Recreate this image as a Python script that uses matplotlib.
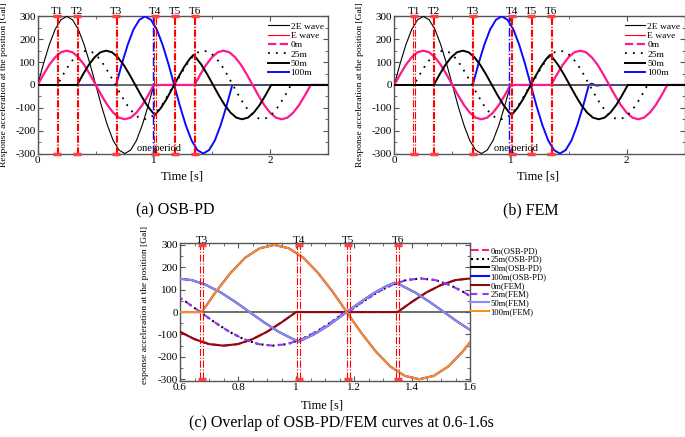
import matplotlib
matplotlib.use('Agg')
import matplotlib.pyplot as plt
from matplotlib.lines import Line2D
from matplotlib.ticker import MultipleLocator, FuncFormatter

plt.rcParams['font.family'] = ['Liberation Serif', 'DejaVu Serif']
plt.rcParams['axes.unicode_minus'] = False

# ---- values (time in s, acceleration in Gal) ----
# input waves
t_2e = [0.0, 0.05, 0.1, 0.15, 0.2, 0.25, 0.3, 0.35, 0.4, 0.45, 0.5, 0.55, 0.6, 0.65, 0.7,
        0.75, 0.8, 0.85, 0.9, 0.95, 1.0, 2.5]
a_2e = [0, 93, 176, 243, 285, 300, 285, 243, 176, 93, 0, -93, -176, -243, -285, -300,
        -285, -243, -176, -93, 0, 0]
t_e = t_2e
a_e = [0, 46, 88, 121, 143, 150, 143, 121, 88, 46, 0, -46, -88, -121, -143, -150,
       -143, -121, -88, -46, 0, 0]

# responses at 0m / 25m / 50m / 100m (OSB-PD)
t_0m = [0.0, 0.05, 0.1, 0.15, 0.2, 0.25, 0.3, 0.35, 0.4, 0.45, 0.5, 0.55, 0.6, 0.65, 0.7,
        0.75, 0.8, 0.85, 0.9, 0.95, 1.0,
        1.35, 1.4, 1.45, 1.5, 1.55, 1.6, 1.65, 1.7, 1.75, 1.8, 1.85, 1.9, 1.95, 2.0,
        2.05, 2.1, 2.15, 2.2, 2.25, 2.3, 2.35, 2.5]
a_0m = [0, 46, 88, 121, 143, 150, 143, 121, 88, 46, 0, -46, -88, -121, -143, -150,
        -143, -121, -88, -46, 0,
        0, 46, 88, 121, 143, 150, 143, 121, 88, 46, 0, -46, -88, -121, -143, -150,
        -143, -121, -88, -46, 0, 0]

t_25m = [0.0, 0.17, 0.22, 0.27, 0.32, 0.37, 0.42, 0.47, 0.52, 0.57, 0.62, 0.67, 0.72, 0.77,
         0.82, 0.87, 0.92, 0.97, 1.02, 1.07, 1.12, 1.17,
         1.18, 1.23, 1.28, 1.33, 1.38, 1.43, 1.48, 1.53, 1.58, 1.63, 1.68, 1.73, 1.78,
         1.83, 1.88, 1.93, 1.98, 2.03, 2.08, 2.13, 2.18, 2.5]
a_25m = [0, 0, 46, 88, 121, 143, 150, 143, 121, 88, 46, 0, -46, -88, -121, -143, -150,
         -143, -121, -88, -46, 0,
         0, 46, 88, 121, 143, 150, 143, 121, 88, 46, 0, -46, -88, -121, -143, -150,
         -143, -121, -88, -46, 0, 0]

t_50m = [0.0, 0.34, 0.39, 0.44, 0.49, 0.54, 0.59, 0.64, 0.69, 0.74, 0.79, 0.84, 0.89, 0.94,
         0.99, 1.01, 1.06, 1.11, 1.16, 1.21, 1.26, 1.31, 1.34,
         1.36, 1.41, 1.46, 1.51, 1.56, 1.61, 1.66, 1.71, 1.76, 1.81, 1.86, 1.91, 1.96,
         2.01, 2.5]
a_50m = [0, 0, 46, 88, 121, 143, 150, 143, 121, 88, 46, 0, -46, -88, -121,
         -131, -101, -61, -14, 33, 78, 115, 131,
         121, 88, 46, 0, -46, -88, -121, -143, -150, -143, -121, -88, -46, 0, 0]

t_100m = [0.0, 0.675, 0.725, 0.775, 0.825, 0.875, 0.925, 0.975, 1.025, 1.075, 1.125, 1.175,
          1.225, 1.275, 1.325, 1.375, 1.425, 1.475, 1.525, 1.575, 1.625, 1.675, 2.5]
a_100m = [0, 0, 93, 176, 243, 285, 300, 285, 243, 176, 93, 0, -93, -176, -243, -285,
          -300, -285, -243, -176, -93, 0, 0]

# FEM curves: indistinguishable from OSB-PD except a small tail on 100m
t_0m_fem, a_0m_fem = t_0m, a_0m
t_25m_fem, a_25m_fem = t_25m, a_25m
t_50m_fem, a_50m_fem = t_50m, a_50m
t_100m_fem = t_100m[:-1] + [1.70, 1.74, 1.80, 2.5]
a_100m_fem = a_100m[:-1] + [6, -3, 0, 0]

# marked instants
t_marks = [0.17, 0.34, 0.675, 1.01, 1.18, 1.35]
mark_names = ['T1', 'T2', 'T3', 'T4', 'T5', 'T6']
t_period = 0.99

C_MAG = '#ff1a8c'
C_BLUE = '#0a0aff'
GRID = '#555555'


def style_axes(ax, xmaj, xmin, xlim, ylim):
    ax.set_xlim(*xlim)
    ax.set_ylim(*ylim)
    ax.xaxis.set_major_locator(MultipleLocator(xmaj))
    ax.xaxis.set_minor_locator(MultipleLocator(xmin))
    ax.yaxis.set_major_locator(MultipleLocator(100))
    ax.yaxis.set_minor_locator(MultipleLocator(50))
    ax.xaxis.set_major_formatter(FuncFormatter(lambda v, p: '%g' % round(v, 3)))
    ax.tick_params(which='both', direction='in', top=True, right=True,
                   labelsize=8, pad=1.5, color=GRID)
    ax.tick_params(which='major', length=3.5)
    ax.tick_params(which='minor', length=2)
    for s in ax.spines.values():
        s.set_color(GRID)
        s.set_linewidth(1.0)
    ax.axhline(0, color=GRID, lw=1.2, zorder=3.5)


def draw_marks(ax, idx):
    for i in idx:
        for dx in (-0.005, 0.005):
            ax.plot([t_marks[i] + dx, t_marks[i] + dx], [-300, 300], color='red',
                    ls='-.', lw=0.8, zorder=5, clip_on=False)
        ax.plot([t_marks[i], t_marks[i]], [-300, 300], ls='none', marker='_', ms=6,
                mew=2.5, color='#ff4040', zorder=6, clip_on=False)
        ax.text(t_marks[i], 301, mark_names[i], ha='center', va='bottom', fontsize=8,
                zorder=7)


def draw_single(ax, fem):
    ax.plot(t_2e, a_2e, color='black', lw=0.8, zorder=3)
    ax.plot(t_e, a_e, color='red', lw=0.8, zorder=3)
    if fem:
        d = [(t_0m_fem, a_0m_fem), (t_25m_fem, a_25m_fem), (t_50m_fem, a_50m_fem),
             (t_100m_fem, a_100m_fem)]
    else:
        d = [(t_0m, a_0m), (t_25m, a_25m), (t_50m, a_50m), (t_100m, a_100m)]
    ax.plot(*d[3], color=C_BLUE, lw=1.4, zorder=3)
    ax.plot(*d[0], color=C_MAG, lw=1.6, zorder=4)
    ax.plot(*d[1], color='black', lw=1.3, dashes=(1, 3.4), zorder=4)
    ax.plot(*d[2], color='black', lw=1.4, zorder=4)
    ax.plot([t_period, t_period], [-300, 300], color=C_BLUE, ls='-.', lw=1.0, zorder=5)
    draw_marks(ax, range(6))
    ax.text(1.045, -276, 'one period', ha='center', va='center', fontsize=7.5, zorder=8)
    handles = [Line2D([], [], color='black', lw=0.8),
               Line2D([], [], color='red', lw=0.8),
               Line2D([], [], color=C_MAG, lw=1.6, ls='--'),
               Line2D([], [], color='black', lw=1.3, dashes=(1, 3.4)),
               Line2D([], [], color='black', lw=1.4),
               Line2D([], [], color=C_BLUE, lw=1.4)]
    labels = ['2E wave', 'E wave', '0m', '25m', '50m', '100m']
    ax.legend(handles, labels, loc='upper right', bbox_to_anchor=(0.985, 0.955),
              frameon=False, fontsize=6.8, handlelength=2.2, handletextpad=0.2,
              labelspacing=0.08, borderpad=0, borderaxespad=0)
    style_axes(ax, 1, 0.5, (0, 2.5), (-302, 303))


fig = plt.figure(figsize=(6.85, 4.37), dpi=100)

ax_a = fig.add_axes([0.055, 0.6476, 0.424, 0.3165])
draw_single(ax_a, False)
ax_b = fig.add_axes([0.5756, 0.6476, 0.424, 0.3165])
draw_single(ax_b, True)

# (c) overlay 0.6-1.6 s
ax_c = fig.add_axes([0.2628, 0.1281, 0.4234, 0.3166])
ax_c.plot(t_0m, a_0m, color=C_MAG, lw=1.5, ls='--', zorder=3)
ax_c.plot(t_25m, a_25m, color='black', lw=1.5, ls=':', zorder=3)
ax_c.plot(t_50m, a_50m, color='black', lw=1.5, zorder=3)
ax_c.plot(t_100m, a_100m, color=C_BLUE, lw=1.5, zorder=3)
ax_c.plot(t_0m_fem, a_0m_fem, color='#8b0a0a', lw=1.5, zorder=4)
ax_c.plot(t_25m_fem, a_25m_fem, color='#9933ff', lw=1.5, dashes=(3, 2.5), zorder=4)
ax_c.plot(t_50m_fem, a_50m_fem, color='#8888ff', lw=1.5, zorder=4)
ax_c.plot(t_100m_fem, a_100m_fem, color='#ff8c1a', lw=1.5, zorder=4)
draw_marks(ax_c, range(2, 6))
style_axes(ax_c, 0.2, 0.05, (0.6, 1.6), (-308, 310))
hc = [Line2D([], [], color=C_MAG, lw=1.5, ls='--'),
      Line2D([], [], color='black', lw=1.5, ls=':'),
      Line2D([], [], color='black', lw=1.5),
      Line2D([], [], color=C_BLUE, lw=1.5),
      Line2D([], [], color='#8b0a0a', lw=1.5),
      Line2D([], [], color='#9933ff', lw=1.5, dashes=(3, 2.5)),
      Line2D([], [], color='#8888ff', lw=1.5),
      Line2D([], [], color='#ff8c1a', lw=1.5)]
lc = ['0m(OSB-PD)', '25m(OSB-PD)', '50m(OSB-PD)', '100m(OSB-PD)',
      '0m(FEM)', '25m(FEM)', '50m(FEM)', '100m(FEM)']
ax_c.legend(hc, lc, loc='upper left', bbox_to_anchor=(0.688, 0.435),
            bbox_transform=fig.transFigure, frameon=False, fontsize=6.2,
            handlelength=2.0, handletextpad=0.2, labelspacing=0.08,
            borderpad=0, borderaxespad=0)

# labels and captions
ylab = 'Response acceleration at the position [Gal]'
fig.text(0.266, 0.595, 'Time [s]', ha='center', va='center', fontsize=9)
fig.text(0.785, 0.595, 'Time [s]', ha='center', va='center', fontsize=9)
fig.text(0.470, 0.073, 'Time [s]', ha='center', va='center', fontsize=9)
fig.text(0.006, 0.805, ylab, rotation=90, ha='center', va='center', fontsize=6.8)
fig.text(0.5255, 0.805, ylab, rotation=90, ha='center', va='center', fontsize=6.8)
fig.text(0.2124, 0.302, 'esponse acceleration at the position [Gal]', rotation=90,
         ha='center', va='center', fontsize=6.8)
fig.text(0.256, 0.519, '(a) OSB-PD', ha='center', va='center', fontsize=11.5)
fig.text(0.775, 0.519, '(b) FEM', ha='center', va='center', fontsize=11.5)
fig.text(0.499, 0.032, '(c) Overlap of OSB-PD/FEM curves at 0.6-1.6s', ha='center',
         va='center', fontsize=11.5)

fig.savefig('out.png', dpi=100)
